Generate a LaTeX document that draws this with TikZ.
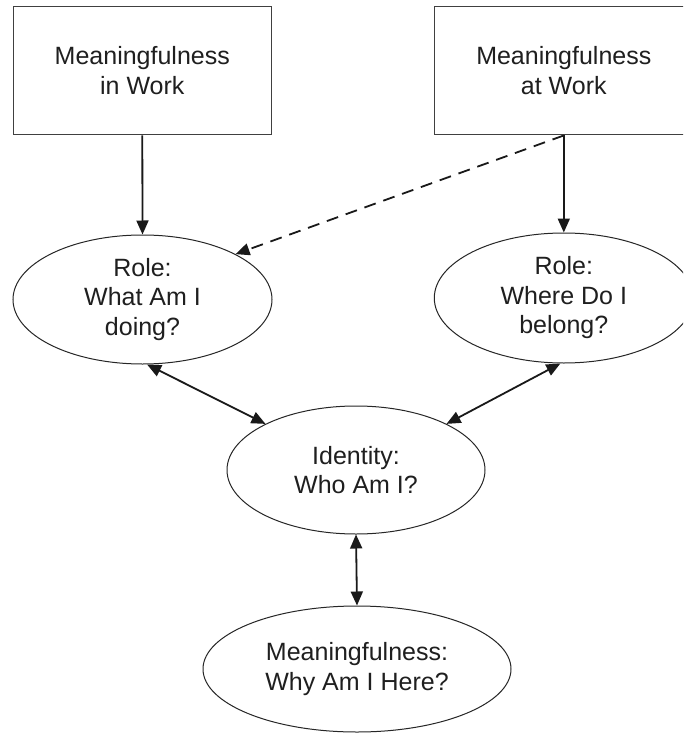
\documentclass[tikz,border=0pt]{standalone}
\usepackage{fontspec}
\setmainfont{Liberation Sans}
\usetikzlibrary{arrows.meta,shapes.geometric}
\begin{document}
\begin{tikzpicture}[x=1pt,y=-1pt,
  txt/.style={font=\fontsize{25}{29.5}\selectfont, text=black!88, align=center, inner sep=0pt},
  boxnode/.style={txt, draw=black!75, line width=1.2pt, minimum width=258pt, minimum height=128.5pt},
  ellnode/.style={txt, ellipse, draw=black!85, line width=1pt},
  conn/.style={line width=1.8pt, black!90, -{Triangle[length=14pt,width=12pt]}},
  bconn/.style={line width=1.8pt, black!90, {Triangle[length=14pt,width=12pt]}-{Triangle[length=14pt,width=12pt]}},
  dconn/.style={conn, dash pattern=on 12pt off 8pt}
]
\clip (0,0) rectangle (683,733);
\fill[white] (0,0) rectangle (683,733);
\node[boxnode] (b1) at (142.3,70.6) {Meaningfulness\\in Work};
\node[boxnode] (b2) at (563.8,70.6) {Meaningfulness\\at Work};
\node[ellnode, minimum width=259pt, minimum height=129pt] (e1) at (142.5,299.5) {Role:\\What Am I\\doing?};
\node[ellnode, minimum width=259pt, minimum height=130pt] (e2) at (563.8,298) {Role:\\Where Do I\\belong?};
\node[ellnode, minimum width=258pt, minimum height=128pt] (id) at (356,470) {Identity:\\Who Am I?};
\node[ellnode, minimum width=308pt, minimum height=126pt] (m) at (357,669) {Meaningfulness:\\Why Am I Here?};
\draw[conn] (b1.south) -- (e1.north);
\draw[conn] (b2.south) -- (e2.north);
\draw[dconn] (b2.south) -- (e1.26);
\draw[bconn] (e1.-86) -- (id.153);
\draw[bconn] (e2.-93) -- (id.27);
\draw[bconn] (id.south) -- (m.north);
\end{tikzpicture}
\end{document}
